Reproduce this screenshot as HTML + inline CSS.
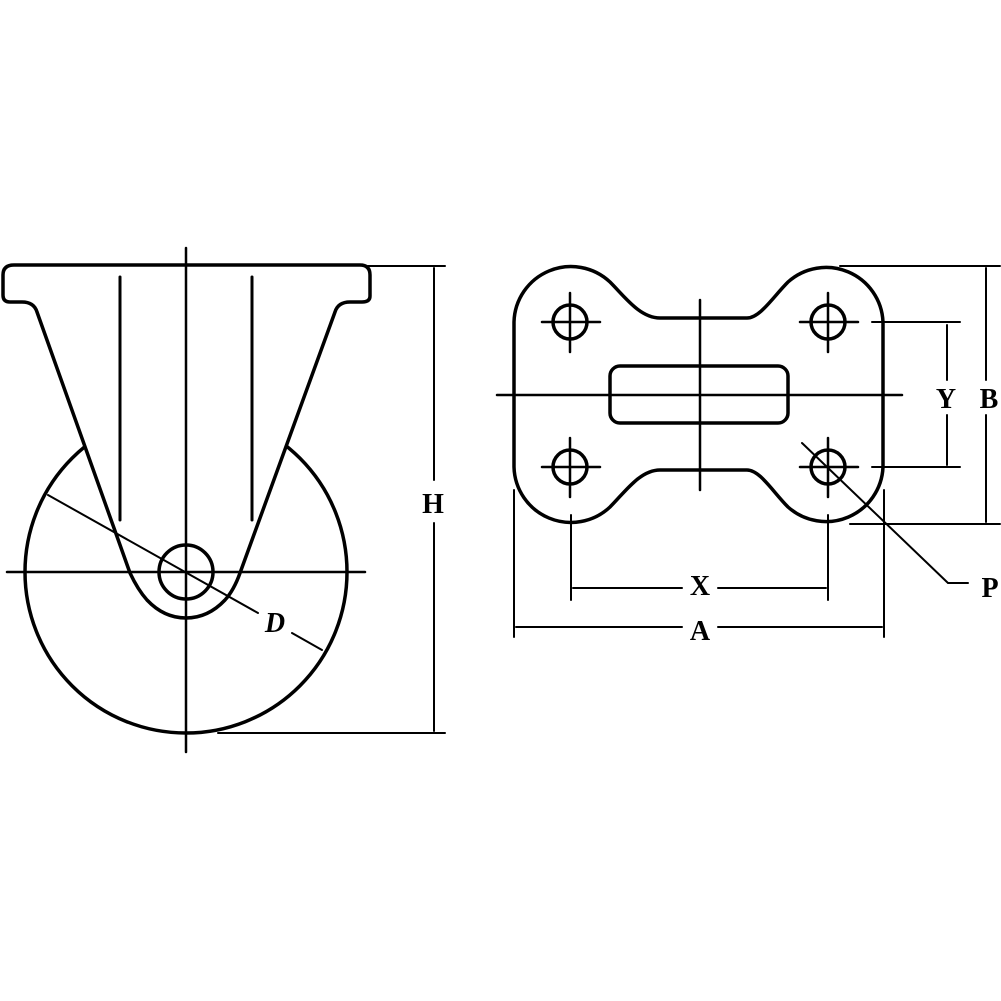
<!DOCTYPE html>
<html><head><style>html,body{margin:0;padding:0;background:#fff}svg{display:block}</style></head><body>
<svg width="1001" height="1001" viewBox="0 0 1001 1001" xmlns="http://www.w3.org/2000/svg">
<rect width="1001" height="1001" fill="#fff"/>
<g fill="none" stroke="#000" stroke-linecap="round" stroke-linejoin="round">
<circle cx="186" cy="572" r="161" stroke-width="3.5"/>
<path d="M14,265 L360,265 Q370,265 370,275 L370,296 Q370,302 362,302 L350,302 Q338,302 335,312 L240,573 Q234,590 225,600 Q208,618 186,618 Q164,618 147,600 Q138,590 130,573 L37,312 Q34,302 22,302 L10,302 Q3,302 3,295 L3,275 Q3,265 14,265 Z" fill="#fff" stroke-width="3.5"/>
<line x1="120" y1="277" x2="120" y2="520" stroke-width="3"/>
<line x1="252" y1="277" x2="252" y2="520" stroke-width="3"/>
<circle cx="186" cy="572" r="27" stroke-width="3.5"/>
<line x1="186" y1="248" x2="186" y2="752" stroke-width="2.5"/>
<line x1="7" y1="572" x2="365" y2="572" stroke-width="2.5"/>
<line x1="48" y1="495" x2="258" y2="613" stroke-width="2"/>
<line x1="292" y1="633" x2="322" y2="650" stroke-width="2"/>
<line x1="368" y1="266" x2="445" y2="266" stroke-width="2"/>
<line x1="218" y1="733" x2="445" y2="733" stroke-width="2"/>
<line x1="434" y1="268" x2="434" y2="480" stroke-width="2"/>
<line x1="434" y1="523" x2="434" y2="731" stroke-width="2"/>
<path d="M514,322 A57,57 0 0 1 610,282 C625,297 640,318 660,318 L747,318 C760,318 773,297 788,282 A57,57 0 0 1 883,322 L883,467 A57,57 0 0 1 788,507 C773,492 760,470 747,470 L660,470 C640,470 625,492 610,507 A57,57 0 0 1 514,467 Z" stroke-width="3.5"/>
<rect x="610" y="366" width="178" height="57" rx="10" stroke-width="3.5"/>
<line x1="497" y1="395" x2="902" y2="395" stroke-width="2.5"/>
<line x1="700" y1="300" x2="700" y2="490" stroke-width="2.5"/>
<g stroke-width="3.5"><circle cx="570" cy="322" r="17"/><circle cx="828" cy="322" r="17"/><circle cx="570" cy="467" r="17"/><circle cx="828" cy="467" r="17"/></g>
<g stroke-width="2.5">
<path d="M542,322H600M570,293V352M800,322H858M828,293V352M542,467H600M570,438V497M800,467H858M828,438V497"/>
</g>
<g stroke-width="2">
<line x1="872" y1="322" x2="960" y2="322"/><line x1="872" y1="467" x2="960" y2="467"/>
<line x1="947" y1="325" x2="947" y2="380"/><line x1="947" y1="415" x2="947" y2="465"/>
<line x1="840" y1="266" x2="1000" y2="266"/><line x1="850" y1="524" x2="1000" y2="524"/>
<line x1="986" y1="268" x2="986" y2="380"/><line x1="986" y1="415" x2="986" y2="522"/>
<line x1="571" y1="515" x2="571" y2="600"/><line x1="828" y1="515" x2="828" y2="600"/>
<line x1="573" y1="588" x2="682" y2="588"/><line x1="718" y1="588" x2="826" y2="588"/>
<line x1="514" y1="490" x2="514" y2="637"/><line x1="884" y1="490" x2="884" y2="637"/>
<line x1="516" y1="627" x2="682" y2="627"/><line x1="718" y1="627" x2="882" y2="627"/>
<path d="M802,443 L948,583 L968,583"/>
</g>
</g>
<g font-family="Liberation Serif, serif" font-weight="bold" font-size="28" text-anchor="middle">
<text x="275" y="632" font-style="italic">D</text>
<text x="433" y="513">H</text>
<text x="946" y="408">Y</text>
<text x="989" y="408">B</text>
<text x="700" y="595">X</text>
<text x="700" y="640">A</text>
<text x="990" y="597">P</text>
</g>
</svg>
</body></html>
